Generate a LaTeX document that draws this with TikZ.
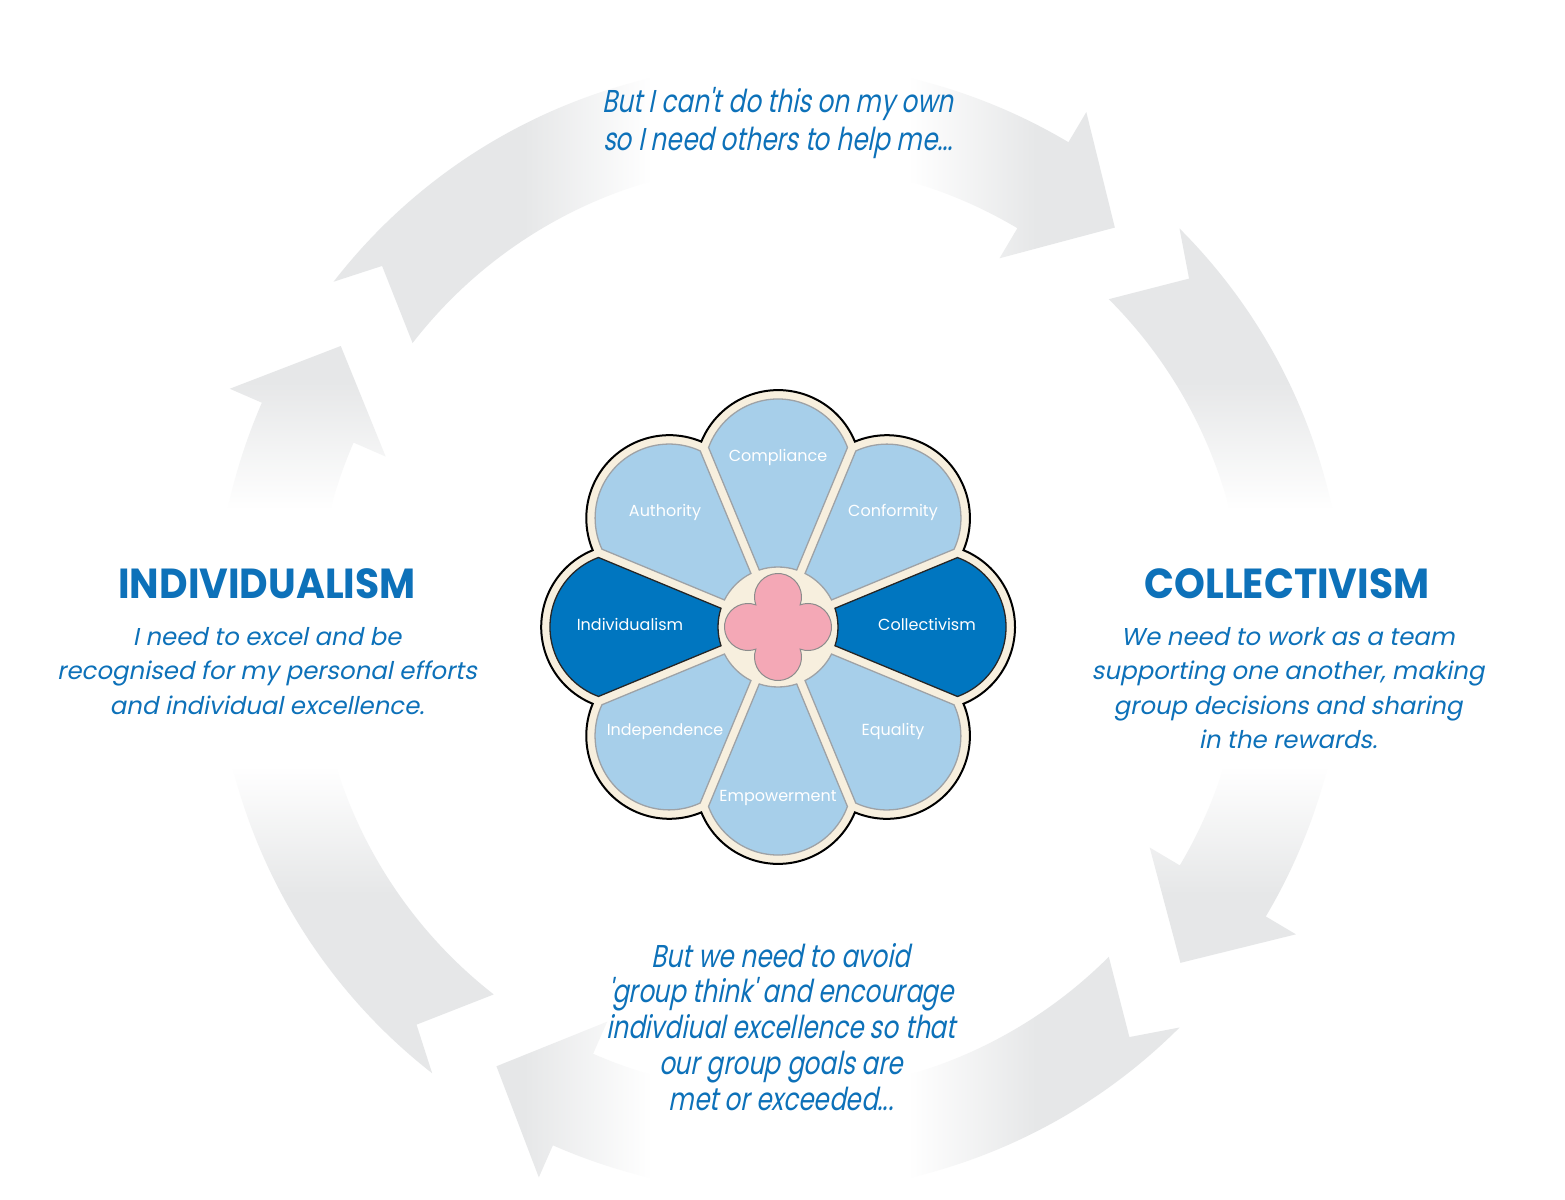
\documentclass[tikz,border=0pt]{standalone}
\usepackage{fontspec}
\setmainfont{Poppins}
\newfontfamily\obliquefont[FakeSlant=0.2]{Poppins}
\newfontfamily\narrowfont[FakeSlant=0.2,FakeStretch=0.78]{Poppins}
\newfontfamily\headfont[FakeStretch=0.935]{Poppins}
\usetikzlibrary{calc}

\definecolor{bandgrey}{HTML}{E6E7E8}
\definecolor{txtblue}{HTML}{0D71B9}
\definecolor{cream}{HTML}{F7EFDE}
\definecolor{petallight}{HTML}{A7CFEA}
\definecolor{petaldark}{HTML}{0076C0}
\definecolor{petalline}{HTML}{9EA2A6}
\definecolor{pinkheart}{HTML}{F4A8B6}

% grey band that fades to white around its middle
\pgfdeclarehorizontalshading{fadex}{100bp}{color(0bp)=(bandgrey); color(42bp)=(bandgrey); color(46bp)=(white); color(54bp)=(white); color(58bp)=(bandgrey); color(100bp)=(bandgrey)}
\pgfdeclareverticalshading{fadey}{100bp}{color(0bp)=(bandgrey); color(42bp)=(bandgrey); color(46bp)=(white); color(54bp)=(white); color(58bp)=(bandgrey); color(100bp)=(bandgrey)}

\tikzset{
  headline/.style={font=\headfont\bfseries\fontsize{42}{48}\selectfont, text=txtblue, inner sep=0pt, anchor=base},
  bodytext/.style={font=\obliquefont\fontsize{24.4}{34.6}\selectfont, text=txtblue, inner sep=0pt, anchor=base},
  narrowtext/.style={font=\narrowfont\fontsize{31.6}{37.5}\selectfont, text=txtblue, inner sep=0pt, anchor=base},
  petallabel/.style={font=\fontsize{16}{18}\selectfont, text=white, inner sep=0pt, text height=0.72em, text depth=0pt, anchor=center},
  lightpetal/.style={fill=petallight, draw=petalline, line width=1.3pt},
  darkpetal/.style={fill=petaldark, draw=black!85, line width=1.3pt},
}

% one clockwise arrow: tail angle, head base angle
\newcommand{\cwband}[2]{(#1:565pt) arc[start angle=#1, end angle=#2, radius=565pt]
  -- (#2:600pt) -- ({#2-9.2}:522pt) -- (#2:430pt) -- (#2:465pt)
  arc[start angle=#2, end angle=#1, radius=465pt] -- ({#1-4.5}:538pt) -- cycle}

% one petal pointing along the x axis
\newcommand{\petalpath}{(-18.2:60pt) -- (179.5pt,-69.5pt)
  arc[start angle=-69.85, end angle=69.85, radius=74pt]
  -- (18.2:60pt) arc[start angle=18.2, end angle=-18.2, radius=60pt] -- cycle}

\begin{document}
\begin{tikzpicture}[x=1pt,y=1pt]
\useasboundingbox (-780,-571) rectangle (785,628);
\fill[white] (-780,-571) rectangle (785,628);

% the four circular arrows
\foreach \tl/\hd/\sh/\cx/\cy in {142.2/59.3/fadex/0/0, 45/-30.7/fadey/0/-10, -45/-113.7/fadex/0/0, 232/156.5/fadey/0/-10}{
  \begin{scope}
    \clip \cwband{\tl}{\hd};
    \shade[shading=\sh] ({\cx-800},{\cy-800}) rectangle ({\cx+800},{\cy+800});
  \end{scope}
}

% the flower
\begin{scope}[shift={(-2,1)}]
  \filldraw[fill=cream, draw=black, line width=2pt]
    ($(0:154pt)+(-67.7:83pt)$)
    \foreach \a in {0,45,...,315}{ arc[start angle={\a-67.7}, end angle={\a+67.7}, radius=83pt] } -- cycle;
  \foreach \a in {45,90,135,225,270,315}{
    \path[lightpetal, rotate=\a] \petalpath;
  }
  \foreach \a in {0,180}{
    \path[darkpetal, rotate=\a] \petalpath;
  }
  \filldraw[fill=pinkheart, draw=black!45, line width=1pt]
    ($(0:30pt)+(-109.5:23.5pt)$)
    \foreach \a in {0,90,180,270}{ arc[start angle={\a-109.5}, end angle={\a+109.5}, radius=23.5pt] } -- cycle;
\end{scope}

% petal labels
\node[petallabel] (compliance) at (-2,170) {Compliance};
\node[petallabel] (conformity) at (113,115) {Conformity};
\node[petallabel] (authority) at (-115,115) {Authority};
\node[petallabel] (individualism) at (-150,1) {Individualism};
\node[petallabel] (collectivism) at (147,1) {Collectivism};
\node[petallabel] (independence) at (-115,-104) {Independence};
\node[petallabel] (equality) at (113,-104) {Equality};
\node[petallabel] (empowerment) at (-2,-170) {Empowerment};

% captions around the cycle
\node[narrowtext] (toptext) at (-2,515) {\begin{tabular}[t]{@{}c@{}}But I can't do this on my own\\so I need others to help me...\end{tabular}};

\node[headline] (indhead) at (-513,30) {INDIVIDUALISM};
\node[bodytext] (indtext) at (-513,-17) {\begin{tabular}[t]{@{}c@{}}I need to excel and be\\recognised for my personal efforts\\and individual excellence.\end{tabular}};

\node[headline] (colhead) at (507,30) {COLLECTIVISM};
\node[bodytext] (coltext) at (508,-17) {\begin{tabular}[t]{@{}c@{}}We need to work as a team\\supporting one another, making\\group decisions and sharing\\in the rewards.\end{tabular}};

\node[narrowtext, font=\narrowfont\fontsize{31.6}{35.8}\selectfont] (bottomtext) at (1,-339) {\begin{tabular}[t]{@{}c@{}}But we need to avoid\\'group think' and encourage\\indivdiual excellence so that\\our group goals are\\met or exceeded...\end{tabular}};
\end{tikzpicture}
\end{document}
